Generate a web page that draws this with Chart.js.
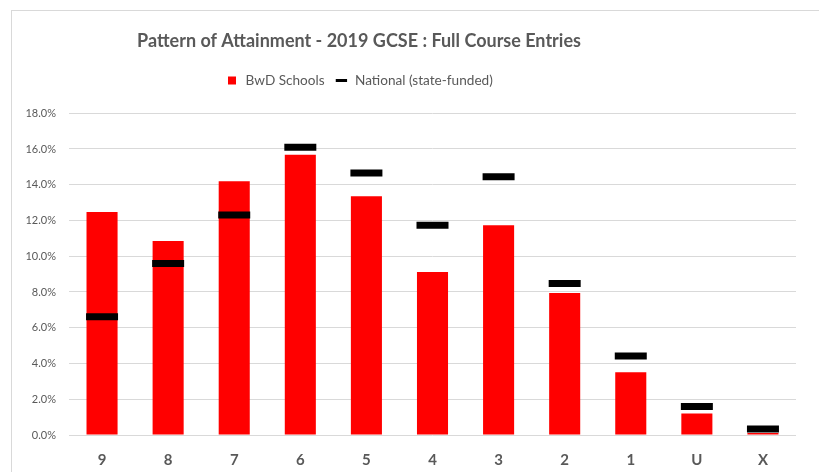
<!DOCTYPE html>
<html>
<head>
<meta charset="utf-8">
<script src="https://cdn.jsdelivr.net/npm/chart.js@4/dist/chart.umd.min.js"></script>
<style>
  html, body { margin: 0; padding: 0; background: #fff; }
  #frame { position: absolute; left: 11px; top: 10px; width: 900px; height: 500px;
           border-top: 1px solid #d9d9d9; border-left: 1px solid #d9d9d9; }
  #wrap { position: absolute; left: 0; top: 0; width: 819px; height: 472px; }
</style>
</head>
<body>
<div id="frame"></div>
<div id="wrap"><canvas id="attainment"></canvas></div>
<script>
const grades = ['9', '8', '7', '6', '5', '4', '3', '2', '1', 'U', 'X'];
const bwdSchools = [12.47, 10.85, 14.2, 15.67, 13.36, 9.12, 11.73, 7.94, 3.51, 1.2, 0.11];
const national = [6.62, 9.59, 12.3, 16.1, 14.65, 11.73, 14.44, 8.48, 4.42, 1.6, 0.33];

const grey = '#595959';

// more room under the legend, and title/legend centred a bit left like the Excel original
const excelLayout = {
    id: 'excelLayout',
    beforeInit(chart) {
        const fit = chart.legend.fit;
        chart.legend.fit = function () {
            fit.bind(chart.legend)();
            this.height += 16;
        };
    },
    afterLayout(chart) {
        chart.titleBlock.right = 718;
        chart.legend.right = 718;
    }
};

const ctx = document.getElementById('attainment').getContext('2d');
const chart = new Chart(ctx, {
    type: 'bar',
    data: {
        labels: grades,
        datasets: [{
            label: 'BwD Schools',
            data: bwdSchools,
            backgroundColor: '#ff0000',
            barPercentage: 0.47,
            categoryPercentage: 1,
            order: 2
        }, {
            type: 'line',
            label: 'National (state-funded)',
            data: national,
            showLine: false,
            pointStyle: 'line',
            pointRadius: 16,
            pointHoverRadius: 16,
            pointBorderWidth: 7,
            pointHoverBorderWidth: 7,
            borderColor: '#000000',
            backgroundColor: '#000000',
            order: 1
        }]
    },
    options: {
        responsive: true,
        maintainAspectRatio: false,
        animation: false,
        layout: { padding: { top: 8, right: 5, left: 0, bottom: 0 } },
        plugins: {
            title: {
                display: true,
                text: 'Pattern of Attainment - 2019 GCSE : Full Course Entries',
                color: grey,
                font: { family: 'Lato', size: 18, weight: 'bold' },
                padding: { top: 22, bottom: 12 }
            },
            legend: {
                labels: {
                    color: grey,
                    font: { family: 'Lato', size: 13.6 },
                    usePointStyle: true,
                    boxHeight: 8,
                    padding: 10,
                    sort: (a, b) => a.datasetIndex - b.datasetIndex,
                    generateLabels(chart) {
                        const items = Chart.defaults.plugins.legend.labels.generateLabels(chart);
                        items.forEach(item => {
                            if (item.datasetIndex === 0) {
                                item.pointStyle = 'rect';
                                item.fillStyle = '#ff0000';
                                item.strokeStyle = '#ff0000';
                                item.lineWidth = 0;
                            } else {
                                item.pointStyle = 'line';
                                item.strokeStyle = '#000000';
                                item.lineWidth = 3;
                            }
                        });
                        return items;
                    }
                }
            },
            tooltip: { enabled: false }
        },
        scales: {
            x: {
                grid: { display: false },
                border: { display: false },
                ticks: {
                    color: grey,
                    font: { family: 'Lato', size: 15, weight: 'bold' },
                    padding: 8
                },
                afterFit(scale) { scale.height = 37; }
            },
            y: {
                min: 0,
                max: 18,
                ticks: {
                    stepSize: 2,
                    color: grey,
                    font: { family: 'Lato', size: 11 },
                    padding: 13,
                    callback: v => v.toFixed(1) + '%'
                },
                grid: { color: '#d9d9d9', lineWidth: 1, drawTicks: false },
                border: { display: false },
                afterFit(scale) { scale.width = 69; }
            }
        }
    },
    plugins: [excelLayout]
});
</script>
</body>
</html>
